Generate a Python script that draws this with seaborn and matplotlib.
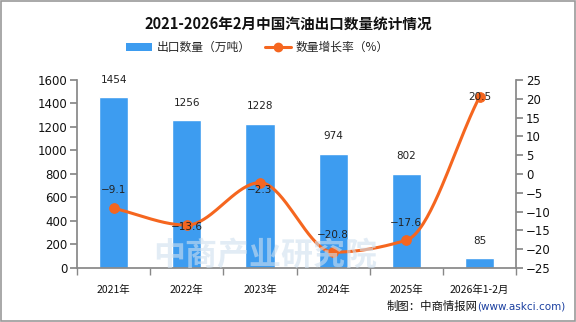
import numpy as np
import pandas as pd
import matplotlib
matplotlib.use("Agg")
import matplotlib.pyplot as plt
import seaborn as sns
from matplotlib.lines import Line2D
from matplotlib.patches import Patch, Rectangle

categories = ["2021年", "2022年", "2023年", "2024年", "2025年", "2026年1-2月"]
export_volume = [1454, 1256, 1228, 974, 802, 85]
growth_rate = [-9.1, -13.6, -2.3, -20.8, -17.6, 20.5]

title = "2021-2026年2月中国汽油出口数量统计情况"
bar_name = "出口数量（万吨）"
line_name = "数量增长率（%）"

BAR_COLOR = "#3d9cf0"
LINE_COLOR = "#f5661f"
AXIS_COLOR = "#888888"

sns.set_theme(style="white")
plt.rcParams["font.family"] = ["Noto Sans CJK SC", "DejaVu Sans"]


def monotone_curve(x, y, n=40):
    """Fritsch-Carlson monotone cubic through the given points."""
    x = np.asarray(x, float)
    y = np.asarray(y, float)
    h = np.diff(x)
    d = np.diff(y) / h
    m = np.zeros_like(y)
    m[0], m[-1] = d[0], d[-1]
    for k in range(1, len(y) - 1):
        if d[k - 1] * d[k] > 0:
            w1 = 2 * h[k] + h[k - 1]
            w2 = h[k] + 2 * h[k - 1]
            m[k] = (w1 + w2) / (w1 / d[k - 1] + w2 / d[k])
    t = np.linspace(0, 1, n)
    h00 = 2 * t**3 - 3 * t**2 + 1
    h10 = t**3 - 2 * t**2 + t
    h01 = -2 * t**3 + 3 * t**2
    h11 = t**3 - t**2
    cx, cy = [], []
    for k in range(len(y) - 1):
        cx.append(x[k] + t * h[k])
        cy.append(h00 * y[k] + h10 * h[k] * m[k] + h01 * y[k + 1] + h11 * h[k] * m[k + 1])
    return np.concatenate(cx), np.concatenate(cy)


df = pd.DataFrame({"year": categories, "volume": export_volume, "rate": growth_rate})

fig = plt.figure(figsize=(5.76, 3.22), dpi=100)
ax = fig.add_axes([0.1337, 0.1677, 0.896 - 0.1337, 0.7516 - 0.1677])

# faint watermark behind the marks
fig.text(0.46, 0.205, "中商产业研究院", fontsize=23, fontweight="bold",
         color="#cfe0ef", alpha=0.6, ha="center", va="center", zorder=0)
ax.set_facecolor("none")

sns.barplot(data=df, x="year", y="volume", color=BAR_COLOR, saturation=1,
            width=0.4, ax=ax, zorder=2)
ax.set_ylim(0, 1600)
ax.set_yticks(range(0, 1601, 200))
ax.set_xlim(-0.5, len(categories) - 0.5)
ax.set_xlabel("")
ax.set_ylabel("")

for i, v in enumerate(export_volume):
    ax.annotate(f"{v}", (i, v), xytext=(0, 9), textcoords="offset points",
                ha="center", va="bottom", fontsize=7.5, color="#222222",
                family="DejaVu Sans")

# secondary axis for the growth rate
ax2 = ax.twinx()
ax2.set_ylim(-25, 25)
ax2.set_yticks(range(-25, 26, 5))

xs = np.arange(len(growth_rate), dtype=float)
cx, cy = monotone_curve(xs, growth_rate)
ax2.plot(cx, cy, color=LINE_COLOR, lw=2.2, zorder=3, solid_capstyle="round")
sns.scatterplot(x=xs, y=growth_rate, color=LINE_COLOR, s=50, edgecolor=LINE_COLOR,
                ax=ax2, zorder=4, legend=False)

# label offsets in points (vertical) for each growth value
label_dy = [13, -1, -5, 12.5, 12.5, 0]
for i, v in enumerate(growth_rate):
    ax2.annotate(f"{v:g}".replace("-", "−"), (i, v), xytext=(0, label_dy[i]),
                 textcoords="offset points", ha="center", va="center",
                 fontsize=7.5, color="#222222", family="DejaVu Sans", zorder=5)

# axis styling
for a in (ax, ax2):
    for s in a.spines.values():
        s.set_visible(False)
ax.spines["left"].set_visible(True)
ax.spines["left"].set_color(AXIS_COLOR)
ax.spines["bottom"].set_visible(True)
ax.spines["bottom"].set_color(AXIS_COLOR)
ax2.spines["right"].set_visible(True)
ax2.spines["right"].set_color(AXIS_COLOR)

ax.tick_params(axis="y", left=True, length=5, color=AXIS_COLOR, labelsize=8.5,
               labelcolor="#111111", pad=2)
ax.set_xticks(range(len(categories)))
ax.set_xticklabels(categories)
ax.set_xticks(np.arange(-0.5, len(categories), 1.0), minor=True)
ax.tick_params(axis="x", which="major", bottom=False, labelsize=7.5,
               labelcolor="#111111", pad=6)
ax.tick_params(axis="x", which="minor", bottom=True, length=5, color=AXIS_COLOR)
ax2.tick_params(axis="y", right=True, length=5, color=AXIS_COLOR, labelsize=8.5,
                labelcolor="#111111", pad=2)
for lab in ax.get_yticklabels():
    lab.set_family("DejaVu Sans")
ax2.set_yticklabels([f"{v}".replace("-", "−") for v in range(-25, 26, 5)],
                    family="DejaVu Sans")

# title and legend
fig.text(0.5, 0.925, title, ha="center", va="center", fontsize=10.5,
         fontweight="bold", color="#111111")
handles = [Patch(facecolor=BAR_COLOR, edgecolor="none"),
           Line2D([0], [0], color=LINE_COLOR, lw=2.2, marker="o", markersize=6)]
fig.legend(handles, [bar_name, line_name], loc="center", bbox_to_anchor=(0.447, 0.852),
           ncol=2, frameon=False, fontsize=8.5, handlelength=2.2, handleheight=0.7,
           columnspacing=1.2, handletextpad=0.4)

# source note: blue url right-aligned, caption placed just left of it
url = fig.text(0.982, 0.048, "(www.askci.com)", ha="right", va="center",
               fontsize=7.5, color="#1a3fa0", family="DejaVu Sans")
fig.canvas.draw()
bb = url.get_window_extent().transformed(fig.transFigure.inverted())
fig.text(bb.x0, 0.048, "制图：中商情报网", ha="right", va="center", fontsize=8.2,
         color="#111111")

# outer frame
fig.patches.append(Rectangle((0.001, 0.002), 0.997, 0.995, transform=fig.transFigure,
                             fill=False, edgecolor="#999999", lw=1.2))

fig.savefig("out.png", dpi=100)
